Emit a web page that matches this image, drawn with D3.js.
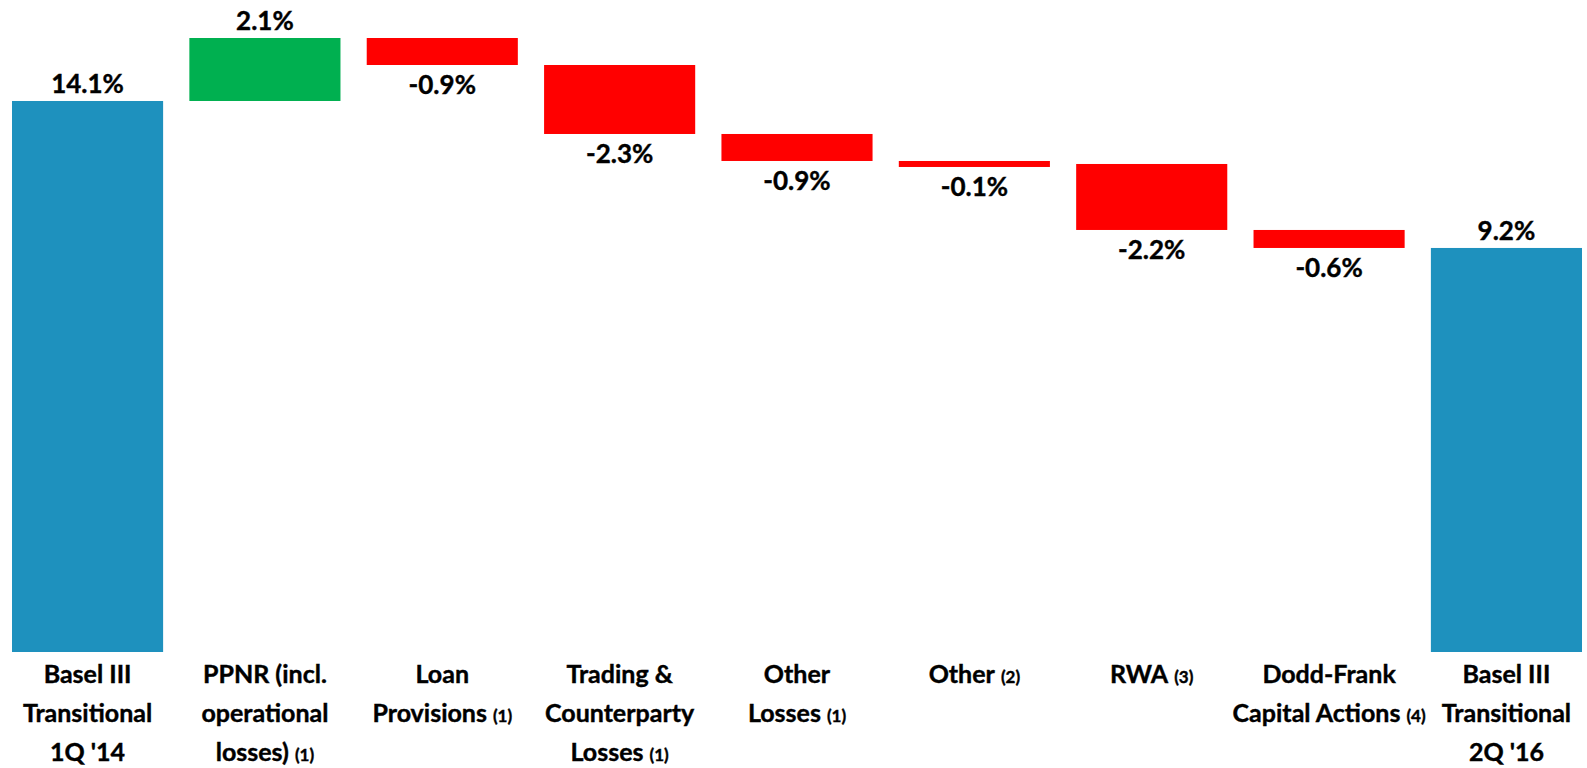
<!DOCTYPE html>
<meta charset="utf-8">

<!-- Load d3.js -->
<script src="https://d3js.org/d3.v7.min.js"></script>

<style>
  body { margin: 0; background: #fff; }
  text { font-family: Lato, "Open Sans", sans-serif; font-weight: bold; fill: #000; }
</style>

<svg id="waterfall" width="1587" height="768"></svg>

<script>

  // Chart data
  var categoryLines = [
    ["Basel III", "Transitional", "1Q '14"],
    ["PPNR (incl.", "operational", "losses)"],
    ["Loan", "Provisions"],
    ["Trading &", "Counterparty", "Losses"],
    ["Other", "Losses"],
    ["Other"],
    ["RWA"],
    ["Dodd-Frank", "Capital Actions"],
    ["Basel III", "Transitional", "2Q '16"]
  ];
  var footnotes = ["", "(1)", "(1)", "(1)", "(1)", "(2)", "(3)", "(4)", ""];
  var values = [14.1, 2.1, -0.9, -2.3, -0.9, -0.1, -2.2, -0.6, 9.2];
  var barTypes = ["total", "delta", "delta", "delta", "delta", "delta", "delta", "delta", "total"];
  var valueLabels = ["14.1%", "2.1%", "-0.9%", "-2.3%", "-0.9%", "-0.1%", "-2.2%", "-0.6%", "9.2%"];

  // The svg
  var svg = d3.select("#waterfall"),
          width = +svg.attr("width"),
          height = +svg.attr("height");

  // running totals for the floating bars
  var running = 0;
  var bars = values.map(function (v, i) {
    var d = { i: i, value: v, type: barTypes[i], label: valueLabels[i] };
    if (d.type === "total") {
      d.start = null;
      d.end = v;
      running = v;
    } else {
      d.start = running;
      d.end = running + v;
      running = d.end;
    }
    return d;
  });

  // Scales (axis is truncated: total bars run down to the bottom of the plot)
  var x = d3.scaleBand()
          .domain(d3.range(values.length))
          .range([12, 1582])
          .paddingInner(0.148)
          .paddingOuter(0);

  var y = d3.scaleLinear()
          .domain([-4.27, 16.2])
          .range([652, 38]);

  var colors = { total: "#1E91BE", up: "#00B050", down: "#FF0000" };
  var minBarHeight = 6;

  function barTop(d) { return d.type === "total" ? y(d.end) : y(Math.max(d.start, d.end)); }
  function barBottom(d) {
    if (d.type === "total") return y.range()[0];
    return Math.max(y(Math.min(d.start, d.end)), barTop(d) + minBarHeight);
  }

  // Draw the bars
  svg.append("g")
          .selectAll("rect")
          .data(bars)
          .enter()
          .append("rect")
          .attr("x", function (d) { return x(d.i); })
          .attr("width", x.bandwidth())
          .attr("y", barTop)
          .attr("height", function (d) { return barBottom(d) - barTop(d); })
          .attr("fill", function (d) {
            if (d.type === "total") return colors.total;
            return d.value >= 0 ? colors.up : colors.down;
          });

  // Value labels: above totals and increases, below decreases
  svg.append("g")
          .selectAll("text")
          .data(bars)
          .enter()
          .append("text")
          .attr("x", function (d) { return x(d.i) + x.bandwidth() / 2; })
          .attr("y", function (d) {
            return d.value >= 0 ? barTop(d) - 8 : barBottom(d) + 29;
          })
          .attr("text-anchor", "middle")
          .style("font-size", "26px")
          .style("stroke", "#000")
          .style("stroke-width", "0.4px")
          .text(function (d) { return d.label; });

  // Category labels, with small footnote markers
  var cats = svg.append("g")
          .selectAll("text")
          .data(categoryLines)
          .enter()
          .append("text")
          .attr("text-anchor", "middle")
          .attr("x", function (d, i) { return x(i) + x.bandwidth() / 2; })
          .attr("y", 683)
          .style("font-size", "25px")
          .style("stroke", "#000")
          .style("stroke-width", "0.4px");

  cats.each(function (lines, i) {
    var t = d3.select(this);
    lines.forEach(function (line, k) {
      t.append("tspan")
              .attr("x", x(i) + x.bandwidth() / 2)
              .attr("dy", k === 0 ? 0 : 39)
              .text(line);
      if (k === lines.length - 1 && footnotes[i]) {
        t.append("tspan")
                .attr("dx", 6)
                .style("font-size", "17px")
                .text(footnotes[i]);
      }
    });
  });

</script>
